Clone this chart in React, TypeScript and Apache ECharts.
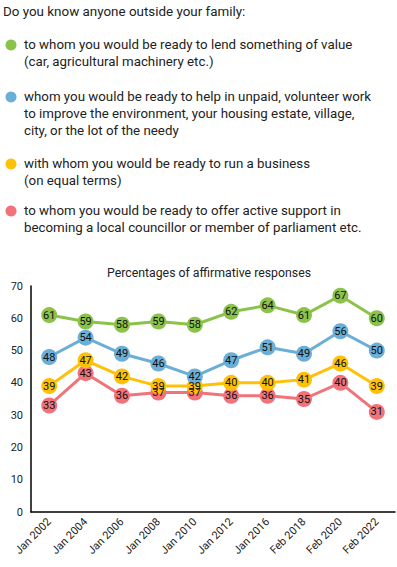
import React, { useEffect, useRef } from "react";
import * as echarts from "echarts";

const categories = ["Jan 2002", "Jan 2004", "Jan 2006", "Jan 2008", "Jan 2010", "Jan 2012", "Jan 2016", "Feb 2018", "Feb 2020", "Feb 2022"];
const lendValues = [61, 59, 58, 59, 58, 62, 64, 61, 67, 60];
const volunteerValues = [48, 54, 49, 46, 42, 47, 51, 49, 56, 50];
const businessValues = [39, 47, 42, 39, 39, 40, 40, 41, 46, 39];
const councillorValues = [33, 43, 36, 37, 37, 36, 36, 35, 40, 31];

const colors = { green: "#8BC34A", blue: "#6BAED6", yellow: "#FFC107", red: "#F2727A" };

const heading = "Do you know anyone outside your family:";
const legendItems = [
  { color: colors.green, lines: ["to whom you would be ready to lend something of value", "(car, agricultural machinery etc.)"], y: 44 },
  { color: colors.blue, lines: ["whom you would be ready to help in unpaid, volunteer work", "to improve the environment, your housing estate, village,", "city, or the lot of the needy"], y: 96 },
  { color: colors.yellow, lines: ["with whom you would be ready to run a business", "(on equal terms)"], y: 163 },
  { color: colors.red, lines: ["to whom you would be ready to offer active support in", "becoming a local councillor or member of parliament etc."], y: 210 },
];
const chartTitle = "Percentages of affirmative responses";

const FONT = "Roboto";

export default function App() {
  const ref = useRef<HTMLDivElement>(null);
  useEffect(() => {
    if (!ref.current) return;
    const chart = echarts.init(ref.current, null, { renderer: "svg" });
    const graphics: any[] = [
      { type: "text", left: 3, top: 5, style: { text: heading, font: `13.4px ${FONT}`, fill: "#222" } },
    ];
    legendItems.forEach((it) => {
      graphics.push({ type: "circle", shape: { cx: 11, cy: it.y + 1, r: 5.5 }, style: { fill: it.color } });
      it.lines.forEach((ln, i) => {
        graphics.push({
          type: "text",
          x: 24,
          y: it.y + i * 17,
          style: { text: ln, font: `13.3px ${FONT}`, fill: "#222", verticalAlign: "middle" },
        });
      });
    });
    const mk = (name: string, data: number[], color: string) => ({
      name,
      type: "line",
      data,
      symbol: "circle",
      symbolSize: 16,
      lineStyle: { color, width: 3 },
      itemStyle: { color },
      label: { show: true, position: "inside", color: "#111", fontFamily: FONT, fontSize: 11 },
    });
    chart.setOption({
      animation: false,
      textStyle: { fontFamily: FONT },
      title: {
        text: chartTitle,
        left: 204,
        textAlign: "center",
        top: 262,
        textStyle: { fontFamily: FONT, fontSize: 12.3, fontWeight: "normal", color: "#222" },
      },
      graphic: graphics,
      grid: { left: 31, right: 2, top: 286, bottom: 55 },
      xAxis: {
        type: "category",
        data: categories,
        boundaryGap: true,
        axisLine: { lineStyle: { color: "#000", width: 1.5 } },
        axisTick: { show: false },
        axisLabel: { rotate: 45, color: "#222", fontSize: 11, fontFamily: FONT, margin: 8, interval: 0 },
      },
      yAxis: {
        type: "value",
        min: 0,
        max: 70,
        interval: 10,
        axisLine: { show: true, lineStyle: { color: "#000", width: 1.5 } },
        axisTick: { show: false },
        splitLine: { show: false },
        axisLabel: { color: "#222", fontSize: 11, fontFamily: FONT, margin: 8 },
      },
      series: [
        mk("councillor", councillorValues, colors.red),
        mk("business", businessValues, colors.yellow),
        mk("volunteer", volunteerValues, colors.blue),
        mk("lend", lendValues, colors.green),
      ],
    });
    return () => chart.dispose();
  }, []);
  return <div ref={ref} style={{ width: 397, height: 567, position: "absolute", left: 0, top: 0 }} />;
}
